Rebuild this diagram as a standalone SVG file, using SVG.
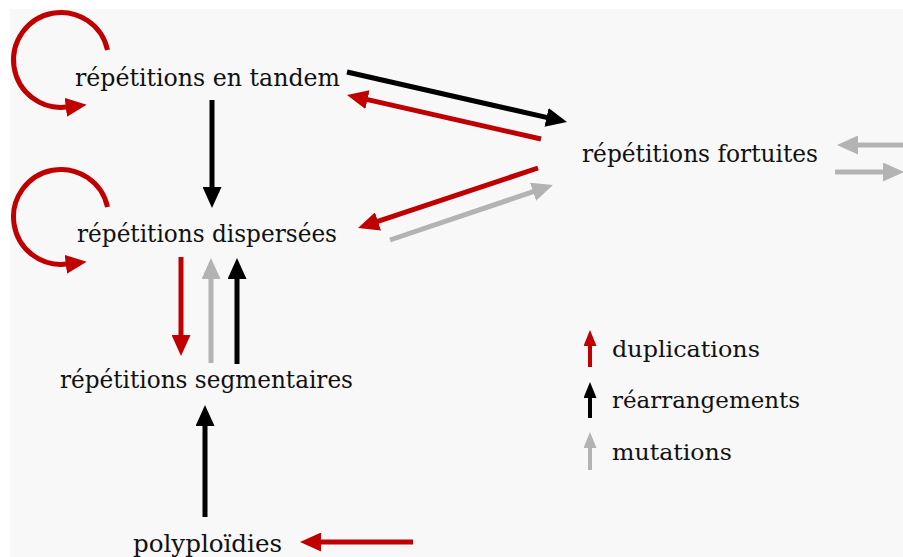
<svg xmlns="http://www.w3.org/2000/svg" width="903" height="557" viewBox="0 0 903 557">
  <style>
    .lbl { font-family: "DejaVu Serif", "Liberation Serif", serif; font-size: 24px; fill: #111; }
    .leg { font-family: "DejaVu Serif", "Liberation Serif", serif; font-size: 23px; fill: #111; }
    .red { stroke: #c00000; }
    .blk { stroke: #000000; }
    .gry { stroke: #b3b3b3; }
    .ln { fill: none; stroke-width: 5; }
    .lg { fill: none; stroke-width: 4; }
  </style>
  <defs>
    <marker id="hRed" viewBox="0 0 21 19" refX="1" refY="9.5" markerWidth="21" markerHeight="19" markerUnits="userSpaceOnUse" orient="auto">
      <path d="M0,0 L21,9.5 L0,19 z" fill="#c00000"/>
    </marker>
    <marker id="hBlk" viewBox="0 0 21 19" refX="1" refY="9.5" markerWidth="21" markerHeight="19" markerUnits="userSpaceOnUse" orient="auto">
      <path d="M0,0 L21,9.5 L0,19 z" fill="#000000"/>
    </marker>
    <marker id="hGry" viewBox="0 0 21 19" refX="1" refY="9.5" markerWidth="21" markerHeight="19" markerUnits="userSpaceOnUse" orient="auto">
      <path d="M0,0 L21,9.5 L0,19 z" fill="#b3b3b3"/>
    </marker>
    <marker id="sRed" viewBox="0 0 16 13" refX="1" refY="6.5" markerWidth="16" markerHeight="13" markerUnits="userSpaceOnUse" orient="auto">
      <path d="M0,0 L16,6.5 L0,13 z" fill="#c00000"/>
    </marker>
    <marker id="sBlk" viewBox="0 0 16 13" refX="1" refY="6.5" markerWidth="16" markerHeight="13" markerUnits="userSpaceOnUse" orient="auto">
      <path d="M0,0 L16,6.5 L0,13 z" fill="#000000"/>
    </marker>
    <marker id="sGry" viewBox="0 0 16 13" refX="1" refY="6.5" markerWidth="16" markerHeight="13" markerUnits="userSpaceOnUse" orient="auto">
      <path d="M0,0 L16,6.5 L0,13 z" fill="#b3b3b3"/>
    </marker>
  </defs>

  <!-- page background -->
  <rect x="0" y="0" width="903" height="557" fill="#ffffff"/>
  <rect x="10" y="9" width="893" height="548" fill="#f8f8f8"/>

  <!-- nodes -->
  <g id="tandem">
    <text class="lbl" x="75" y="86" textLength="265" lengthAdjust="spacingAndGlyphs">répétitions en tandem</text>
  </g>
  <g id="fortuites">
    <text class="lbl" x="582" y="162" textLength="236" lengthAdjust="spacingAndGlyphs">répétitions fortuites</text>
  </g>
  <g id="dispersees">
    <text class="lbl" x="77" y="242" textLength="260" lengthAdjust="spacingAndGlyphs">répétitions dispersées</text>
  </g>
  <g id="segmentaires">
    <text class="lbl" x="60" y="388" textLength="293" lengthAdjust="spacingAndGlyphs">répétitions segmentaires</text>
  </g>
  <g id="polyploidies">
    <text class="lbl" x="133" y="552" textLength="149" lengthAdjust="spacingAndGlyphs">polyploïdies</text>
  </g>

  <!-- connectors -->
  <g id="connectors">
    <!-- self loops -->
    <path class="ln red" d="M107.5,50.1 A47.5,47.5 0 1 0 66.8,107.1" marker-end="url(#hRed)"/>
    <path class="ln red" d="M107.5,207.1 A47.5,47.5 0 1 0 66.8,264.1" marker-end="url(#hRed)"/>
    <!-- tandem <-> fortuites -->
    <path class="ln blk" d="M347,72 L547.5,117.6" marker-end="url(#hBlk)"/>
    <path class="ln red" d="M541,139 L366.5,99.4" marker-end="url(#hRed)"/>
    <!-- fortuites <-> dispersees -->
    <path class="ln red" d="M538,168 L377,221.7" marker-end="url(#hRed)"/>
    <path class="ln gry" d="M390,240 L534,191.4" marker-end="url(#hGry)"/>
    <!-- tandem -> dispersees -->
    <path class="ln blk" d="M212,100 L212,188" marker-end="url(#hBlk)"/>
    <!-- dispersees <-> segmentaires -->
    <path class="ln red" d="M181,257 L181,336" marker-end="url(#hRed)"/>
    <path class="ln gry" d="M211,363 L211,278" marker-end="url(#hGry)"/>
    <path class="ln blk" d="M237,364 L237,278" marker-end="url(#hBlk)"/>
    <!-- polyploidies -> segmentaires -->
    <path class="ln blk" d="M205,517 L205,425" marker-end="url(#hBlk)"/>
    <!-- incoming to polyploidies -->
    <path class="ln red" d="M413,542 L320,542" marker-end="url(#hRed)"/>
    <!-- fortuites exchanges at the right edge -->
    <path class="ln gry" d="M910,145 L857,145" marker-end="url(#hGry)"/>
    <path class="ln gry" d="M835,172 L884,172" marker-end="url(#hGry)"/>
  </g>

  <!-- legend -->
  <g id="legend">
    <path class="lg red" d="M590,367 L590,345" marker-end="url(#sRed)"/>
    <text class="leg" x="612" y="357" textLength="148" lengthAdjust="spacingAndGlyphs">duplications</text>
    <path class="lg blk" d="M590,418 L590,397" marker-end="url(#sBlk)"/>
    <text class="leg" x="612" y="408" textLength="188" lengthAdjust="spacingAndGlyphs">réarrangements</text>
    <path class="lg gry" d="M590,470 L590,447" marker-end="url(#sGry)"/>
    <text class="leg" x="612" y="460" textLength="120" lengthAdjust="spacingAndGlyphs">mutations</text>
  </g>
</svg>
